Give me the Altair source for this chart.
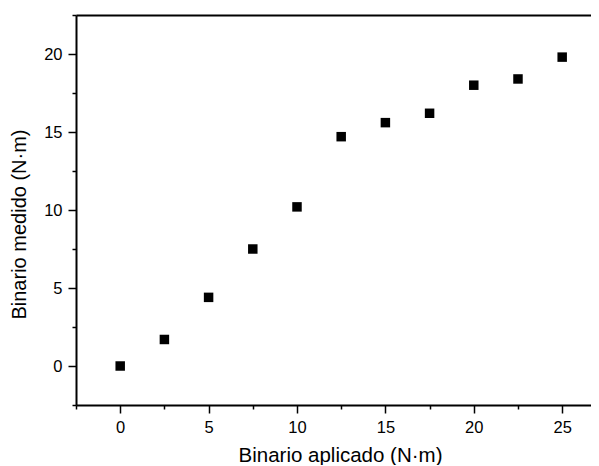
import altair as alt
import pandas as pd

applied = [0, 2.5, 5, 7.5, 10, 12.5, 15, 17.5, 20, 22.5, 25]
measured = [0.0, 1.7, 4.4, 7.5, 10.2, 14.7, 15.6, 16.2, 18.0, 18.4, 19.8]

x_ticks = [-2.5, 0, 2.5, 5, 7.5, 10, 12.5, 15, 17.5, 20, 22.5, 25]
y_ticks = [-2.5, 0, 2.5, 5, 7.5, 10, 12.5, 15, 17.5, 20, 22.5]

df = pd.DataFrame({"applied": applied, "measured": measured})

FONT = "Liberation Sans"
major = "datum.value % 5 === 0"
tick_size = {"condition": {"test": major, "value": 8}, "value": 4}
label_expr = f"{major} ? datum.label : ''"

common = dict(
    grid=False,
    domainColor="black",
    domainWidth=2,
    tickColor="black",
    tickWidth=1.5,
    labelColor="black",
    titleColor="black",
    labelFont=FONT,
    titleFont=FONT,
    labelFontSize=16.5,
    titleFontWeight="normal",
    labelOverlap=False,
    labelFlush=False,
)

x_scale = alt.Scale(domain=[-2.5, 26.63], nice=False, zero=False)
y_scale = alt.Scale(domain=[-2.5, 22.5], nice=False, zero=False)

points = alt.Chart(df).mark_square(size=90, color="black", opacity=1).encode(
    x=alt.X("applied:Q", scale=x_scale,
            axis=alt.Axis(values=x_ticks, labelExpr=label_expr, tickSize=tick_size,
                          labelPadding=6, titlePadding=10, titleFontSize=20.5, titleX=264,
                          title="Binario aplicado (N·m)", **common)),
    y=alt.Y("measured:Q", scale=y_scale,
            axis=alt.Axis(values=y_ticks, labelExpr=label_expr, tickSize=tick_size,
                          labelPadding=6, titlePadding=14, titleFontSize=20, titleY=209,
                          title="Binario medido (N·m)", **common)),
)

top = alt.Chart(df).mark_square(size=90, opacity=0).encode(
    x=alt.X("applied:Q", scale=x_scale,
            axis=alt.Axis(orient="top", values=x_ticks, labels=False, ticks=False,
                          title=None, grid=False, domainColor="black", domainWidth=2)),
    y=alt.Y("measured:Q", scale=y_scale, axis=None),
)

chart = alt.layer(points, top).resolve_axis(x="independent", y="independent").properties(
    width=515,
    height=390,
    autosize=alt.AutoSizeParams(type="none"),
    padding={"left": 68, "top": 7, "right": 0, "bottom": 60},
).configure_view(stroke=None)

chart.save("out.html", embed_options={"renderer": "svg", "actions": False})
